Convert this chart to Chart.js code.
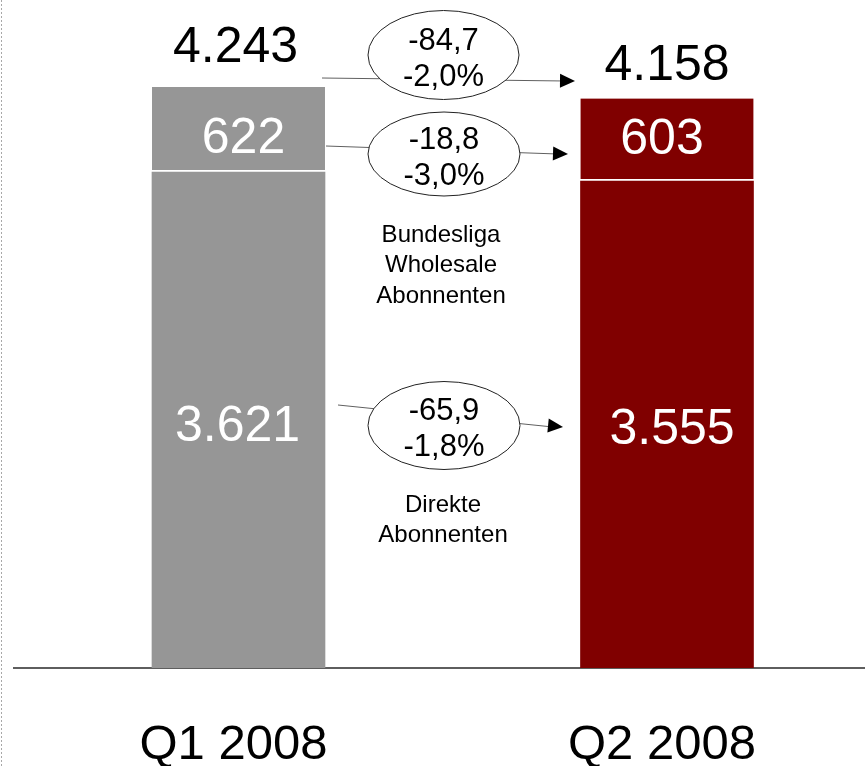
<!DOCTYPE html>
<html>
<head>
<meta charset="utf-8">
<script src="https://cdn.jsdelivr.net/npm/chart.js@4.4.1/dist/chart.umd.min.js"></script>
<style>
html,body{margin:0;padding:0;background:#fff;overflow:hidden}
#wrap{position:relative;width:865px;height:766px}
</style>
</head>
<body>
<div id="wrap"><canvas id="c"></canvas></div>
<script>
// ---- data ----
const categories = ['Q1 2008', 'Q2 2008'];
const direktAbonnenten = [3621, 3555];
const wholesaleAbonnenten = [622, 603];
const deltaAbsolute = ['-84,7', '-18,8', '-65,9'];
const deltaPercent = ['-2,0%', '-3,0%', '-1,8%'];
const seriesNotes = [['Bundesliga', 'Wholesale', 'Abonnenten'], ['Direkte', 'Abonnenten']];

// ---- style ----
const FONT = '"Liberation Sans", Arial, Helvetica, sans-serif';
const barColors = ['#969696', '#800000'];
const labelNudge = {
  total: [{dx: -3, dy: -39}, {dx: 0, dy: -32}],
  wholesale: [{dx: 5, dy: 10}, {dx: -5, dy: 0}],
  direct: [{dx: -1, dy: 7}, {dx: 5, dy: 6}]
};
const annotationLayout = {
  ellipses: [
    {cx: 443.5, cy: 55, rx: 75.5, ry: 44.5},
    {cx: 444, cy: 154, rx: 76, ry: 42},
    {cx: 444, cy: 425.5, rx: 76, ry: 44}
  ],
  arrows: [
    {x1: 322, y1: 78, x2: 575, y2: 81},
    {x1: 326, y1: 146, x2: 568, y2: 154},
    {x1: 338, y1: 405, x2: 563, y2: 427}
  ],
  notes: [{x: 441, y: 235}, {x: 443, y: 505}]
};

const totals = direktAbonnenten.map((v, i) => v + wholesaleAbonnenten[i]);
const fmt = v => String(v).replace(/\B(?=(\d{3})+(?!\d))/g, '.');

const valueLabels = {
  id: 'valueLabels',
  afterDatasetsDraw(chart) {
    const ctx = chart.ctx;
    const m0 = chart.getDatasetMeta(0).data;
    const m1 = chart.getDatasetMeta(1).data;
    ctx.save();
    ctx.textAlign = 'center';
    ctx.textBaseline = 'middle';
    ctx.font = '50px ' + FONT;
    categories.forEach((c, i) => {
      const d = m0[i], w = m1[i];
      ctx.fillStyle = '#ffffff';
      ctx.fillText(fmt(direktAbonnenten[i]), d.x + labelNudge.direct[i].dx, (d.y + d.base) / 2 + labelNudge.direct[i].dy);
      ctx.fillText(fmt(wholesaleAbonnenten[i]), w.x + labelNudge.wholesale[i].dx, (w.y + w.base) / 2 + labelNudge.wholesale[i].dy);
      ctx.fillStyle = '#000000';
      ctx.fillText(fmt(totals[i]), w.x + labelNudge.total[i].dx, w.y + labelNudge.total[i].dy);
    });
    ctx.restore();
  }
};

const annotations = {
  id: 'annotations',
  afterDraw(chart) {
    const ctx = chart.ctx;
    ctx.save();
    // dashed left frame line
    ctx.strokeStyle = '#a8a8a8';
    ctx.lineWidth = 1;
    ctx.setLineDash([2, 2]);
    ctx.beginPath();
    ctx.moveTo(1.5, 0);
    ctx.lineTo(1.5, chart.height);
    ctx.stroke();
    ctx.setLineDash([]);

    // arrows
    annotationLayout.arrows.forEach(a => {
      ctx.strokeStyle = '#606060';
      ctx.lineWidth = 1;
      ctx.beginPath();
      ctx.moveTo(a.x1, a.y1);
      ctx.lineTo(a.x2 - 10, a.y2);
      ctx.stroke();
      const ang = Math.atan2(a.y2 - a.y1, a.x2 - a.x1);
      const L = 15, H = 7;
      ctx.fillStyle = '#000';
      ctx.beginPath();
      ctx.moveTo(a.x2, a.y2);
      ctx.lineTo(a.x2 - L * Math.cos(ang) + H * Math.sin(ang), a.y2 - L * Math.sin(ang) - H * Math.cos(ang));
      ctx.lineTo(a.x2 - L * Math.cos(ang) - H * Math.sin(ang), a.y2 - L * Math.sin(ang) + H * Math.cos(ang));
      ctx.closePath();
      ctx.fill();
    });

    // ellipses with deltas
    annotationLayout.ellipses.forEach((e, i) => {
      ctx.beginPath();
      ctx.ellipse(e.cx, e.cy, e.rx, e.ry, 0, 0, Math.PI * 2);
      ctx.fillStyle = '#fff';
      ctx.fill();
      ctx.strokeStyle = '#222';
      ctx.lineWidth = 1;
      ctx.stroke();
      ctx.fillStyle = '#000';
      ctx.textAlign = 'center';
      ctx.textBaseline = 'middle';
      ctx.font = '31px ' + FONT;
      ctx.fillText(deltaAbsolute[i], e.cx, e.cy - 14);
      ctx.fillText(deltaPercent[i], e.cx, e.cy + 22);
    });

    // series notes
    ctx.font = '24px ' + FONT;
    ctx.fillStyle = '#000';
    annotationLayout.notes.forEach((n, i) => {
      seriesNotes[i].forEach((line, j) => {
        ctx.fillText(line, n.x, n.y + j * 30.5);
      });
    });
    ctx.restore();
  }
};

new Chart(document.getElementById('c'), {
  type: 'bar',
  data: {
    datasets: [
      {
        label: 'Direkte Abonnenten',
        data: categories.map((c, i) => ({x: i, y: direktAbonnenten[i]})),
        backgroundColor: barColors,
        borderWidth: 0
      },
      {
        label: 'Bundesliga Wholesale Abonnenten',
        data: categories.map((c, i) => ({x: i, y: wholesaleAbonnenten[i]})),
        backgroundColor: barColors,
        borderColor: '#ffffff',
        borderWidth: {top: 0, right: 0, bottom: 2.5, left: 0},
        borderSkipped: false
      }
    ]
  },
  options: {
    responsive: true,
    maintainAspectRatio: false,
    animation: false,
    events: [],
    layout: {padding: {left: 14, right: 0, top: 0, bottom: 0}},
    datasets: {bar: {barThickness: 173}},
    plugins: {legend: {display: false}, tooltip: {enabled: false}},
    scales: {
      x: {
        type: 'linear',
        stacked: true,
        offset: false,
        bounds: 'data',
        min: -0.5239,
        max: 1.4621,
        grid: {display: false, drawTicks: false, offset: false},
        border: {display: true, color: '#5e5e5e', width: 2},
        afterBuildTicks: scale => { scale.ticks = categories.map((c, i) => ({value: i})); },
        afterFit: scale => { scale.height = 98; },
        ticks: {
          autoSkip: false,
          maxRotation: 0,
          padding: 48,
          labelOffset: -5,
          color: '#000',
          font: {family: FONT, size: 49},
          callback: v => categories[v]
        }
      },
      y: {
        stacked: true,
        display: false,
        min: 0,
        max: 4878
      }
    }
  },
  plugins: [valueLabels, annotations]
});
</script>
</body>
</html>
